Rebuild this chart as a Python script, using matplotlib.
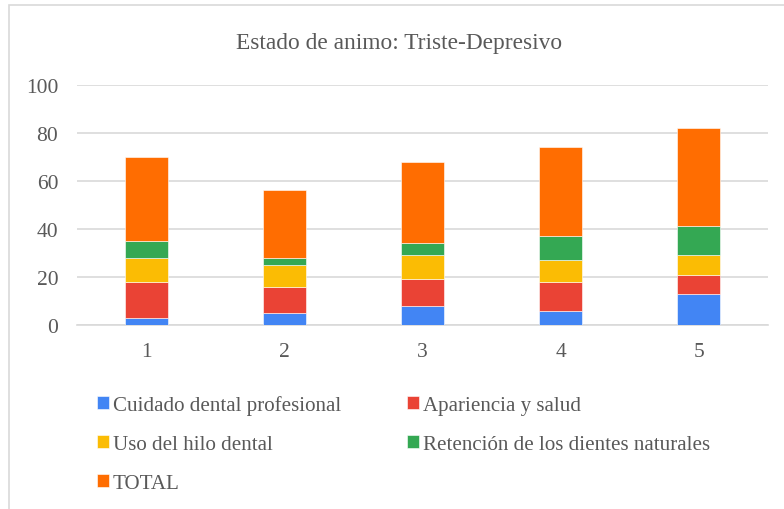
import matplotlib.pyplot as plt
import numpy as np
from matplotlib.patches import Rectangle

# Data
categories = ['1', '2', '3', '4', '5']
cuidado = [3, 5, 8, 6, 13]
apariencia = [15, 11, 11, 12, 8]
hilo = [10, 9, 10, 9, 8]
retencion = [7, 3, 5, 10, 12]
total = [35, 28, 34, 37, 41]

series_names = ['Cuidado dental profesional', 'Apariencia y salud',
                'Uso del hilo dental', 'Retención de los dientes naturales', 'TOTAL']
series_values = [cuidado, apariencia, hilo, retencion, total]
colors = ['#4285F4', '#EA4335', '#FBBC04', '#34A853', '#FF6D01']

TEXT = '#595959'
GRID = '#D9D9D9'

plt.rcParams['font.family'] = ['Liberation Serif', 'DejaVu Serif']

fig = plt.figure(figsize=(7.84, 5.10), dpi=100)
ax = fig.add_axes([77 / 784, 1 - 326 / 510, 691 / 784, (326 - 85.7) / 510])

# chart border
fig.patches.append(Rectangle((8.5 / 784, -0.1), 1.2, 1 - 5.5 / 510 + 0.1,
                             transform=fig.transFigure, fill=False,
                             edgecolor='#D9D9D9', linewidth=1.2))

x = np.arange(len(categories))
bottom = np.zeros(len(categories))
handles = []
for name, vals, col in zip(series_names, series_values, colors):
    b = ax.bar(x, vals, width=0.31, bottom=bottom, color=col, label=name,
               edgecolor='white', linewidth=0.4, zorder=3)
    handles.append(b)
    bottom += np.array(vals)

ax.set_xlim(-0.5, len(categories) - 0.5)
ax.set_ylim(0, 100)
ax.set_yticks(range(0, 101, 20))
ax.set_xticks(x)
ax.set_xticklabels(categories)
ax.yaxis.grid(True, color=GRID, linewidth=1.2, zorder=0)
ax.set_axisbelow(True)
for s in ['top', 'right', 'left']:
    ax.spines[s].set_visible(False)
ax.spines['bottom'].set_color(GRID)
ax.spines['bottom'].set_linewidth(1.2)
ax.tick_params(axis='both', length=0, labelsize=15.5, labelcolor=TEXT)
ax.tick_params(axis='y', pad=13.5)
ax.tick_params(axis='x', pad=12.5)

fig.text(399 / 784, 1 - 43 / 510, 'Estado de animo: Triste-Depresivo',
         ha='center', va='center', fontsize=16.8, color=TEXT)

order = [0, 2, 4, 1, 3]
leg = fig.legend([handles[i] for i in order], [series_names[i] for i in order],
                 ncol=2, loc='upper left', bbox_to_anchor=(97 / 784, 1 - 396 / 510),
                 frameon=False, fontsize=15.1, handlelength=0.55, handleheight=0.55,
                 handletextpad=0.2, columnspacing=3.15, labelspacing=0.95,
                 borderaxespad=0, borderpad=0)
for t in leg.get_texts():
    t.set_color(TEXT)

fig.savefig('out.png', dpi=100)
